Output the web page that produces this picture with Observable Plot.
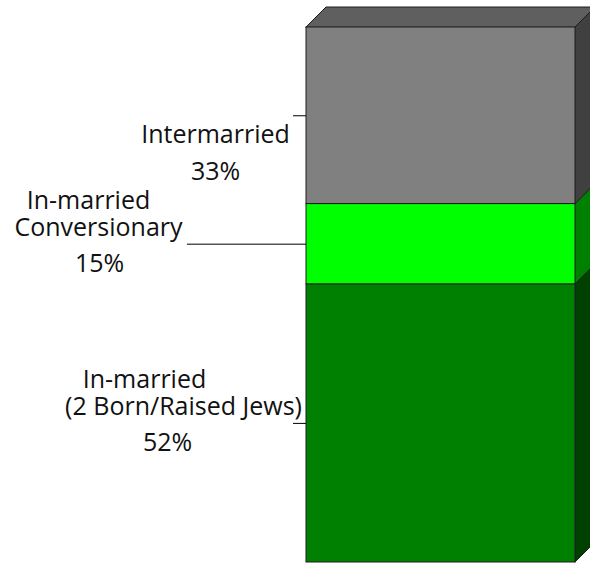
<!DOCTYPE html>
<html>
<head>
<meta charset="utf-8">
<script src="https://cdn.jsdelivr.net/npm/d3@7"></script>
<script src="https://cdn.jsdelivr.net/npm/@observablehq/plot@0.6"></script>
<style>
  html, body { margin: 0; padding: 0; background: #fff; overflow: hidden; }
</style>
</head>
<body>
<div id="chart"></div>
<script>
// ---- data ----
const categories = ["In-married (2 Born/Raised Jews)", "In-married Conversionary", "Intermarried"];
const values = [52, 15, 33];
const labelLines = [["In-married", "(2 Born/Raised Jews)"], ["In-married", "Conversionary"], ["Intermarried"]];
const percentLabels = ["52%", "15%", "33%"];

// ---- styles ----
const frontColors = ["#008000", "#00ff00", "#808080"];
const sideColors = ["#004000", "#008000", "#404040"];
const topColor = "#5f5f5f";
const edge = "#1e1e1e";

const W = 590, H = 563;
const mL = 306, mR = 15, mT = 27, mB = 1;
const frontW = W - mL - mR;          // px
const plotH = H - mT - mB;           // px
const depth = 20;                    // px
const dxU = depth / frontW;          // in x units
const dyU = depth / (plotH / 100);   // in y units

// stacked segments
let acc = 0;
const segs = categories.map((c, i) => {
  const s = {cat: c, i, y1: acc, y2: acc + values[i], mid: acc + values[i] / 2};
  acc += values[i];
  return s;
});
const total = acc;

const sidePts = segs.flatMap(s => [
  {cat: s.cat, x: 1, y1: s.y1, y2: s.y2, fill: sideColors[s.i]},
  {cat: s.cat, x: 1 + dxU, y1: s.y1 + dyU, y2: s.y2 + dyU, fill: sideColors[s.i]}
]);
const topPts = [
  {y: total, x1: 0, x2: 1},
  {y: total + dyU, x1: dxU, x2: 1 + dxU}
];

// label layout (pixel offsets from left edge of bar / segment middle)
const leaderPx = [13, 119, 13];
const lineOffsets = [
  [[-162, -43], [-123, -16]],
  [[-218, -43], [-208, -16]],
  [[-91, 19]]
];
const pctOffsets = [[-139, 20], [-207, 20], [-91, 56]];

const font = "'Open Sans', sans-serif";
const fs = 25;

const textMarks = [];
segs.forEach(s => {
  labelLines[s.i].forEach((t, j) => {
    textMarks.push(Plot.text([s], {x: 0, y: "mid", text: () => t,
      dx: lineOffsets[s.i][j][0], dy: lineOffsets[s.i][j][1],
      fontFamily: font, fontSize: fs, fill: "#111", textAnchor: "middle"}));
  });
  textMarks.push(Plot.text([s], {x: 0, y: "mid", text: () => percentLabels[s.i],
    dx: pctOffsets[s.i][0], dy: pctOffsets[s.i][1],
    fontFamily: font, fontSize: fs, fill: "#111", textAnchor: "middle"}));
});

const chart = Plot.plot({
  width: W,
  height: H,
  marginLeft: mL, marginRight: mR, marginTop: mT, marginBottom: mB,
  style: {overflow: "hidden", background: "#fff"},
  x: {domain: [0, 1], axis: null},
  y: {domain: [0, 100], axis: null},
  color: {type: "identity"},
  marks: [
    Plot.areaY(sidePts, {x: "x", y1: "y1", y2: "y2", z: "cat", fill: "fill", stroke: edge, strokeWidth: 1}),
    Plot.areaX(topPts, {y: "y", x1: "x1", x2: "x2", fill: topColor, stroke: edge, strokeWidth: 1}),
    Plot.rect(segs, {x1: 0, x2: 1, y1: "y1", y2: "y2", fill: (d) => frontColors[d.i], stroke: edge, strokeWidth: 1}),
    Plot.ruleY(segs, {y: "mid", x1: (d) => -leaderPx[d.i] / frontW, x2: 0, stroke: "#000", strokeWidth: 1}),
    ...textMarks
  ]
});
document.getElementById("chart").appendChild(chart);
</script>
</body>
</html>
